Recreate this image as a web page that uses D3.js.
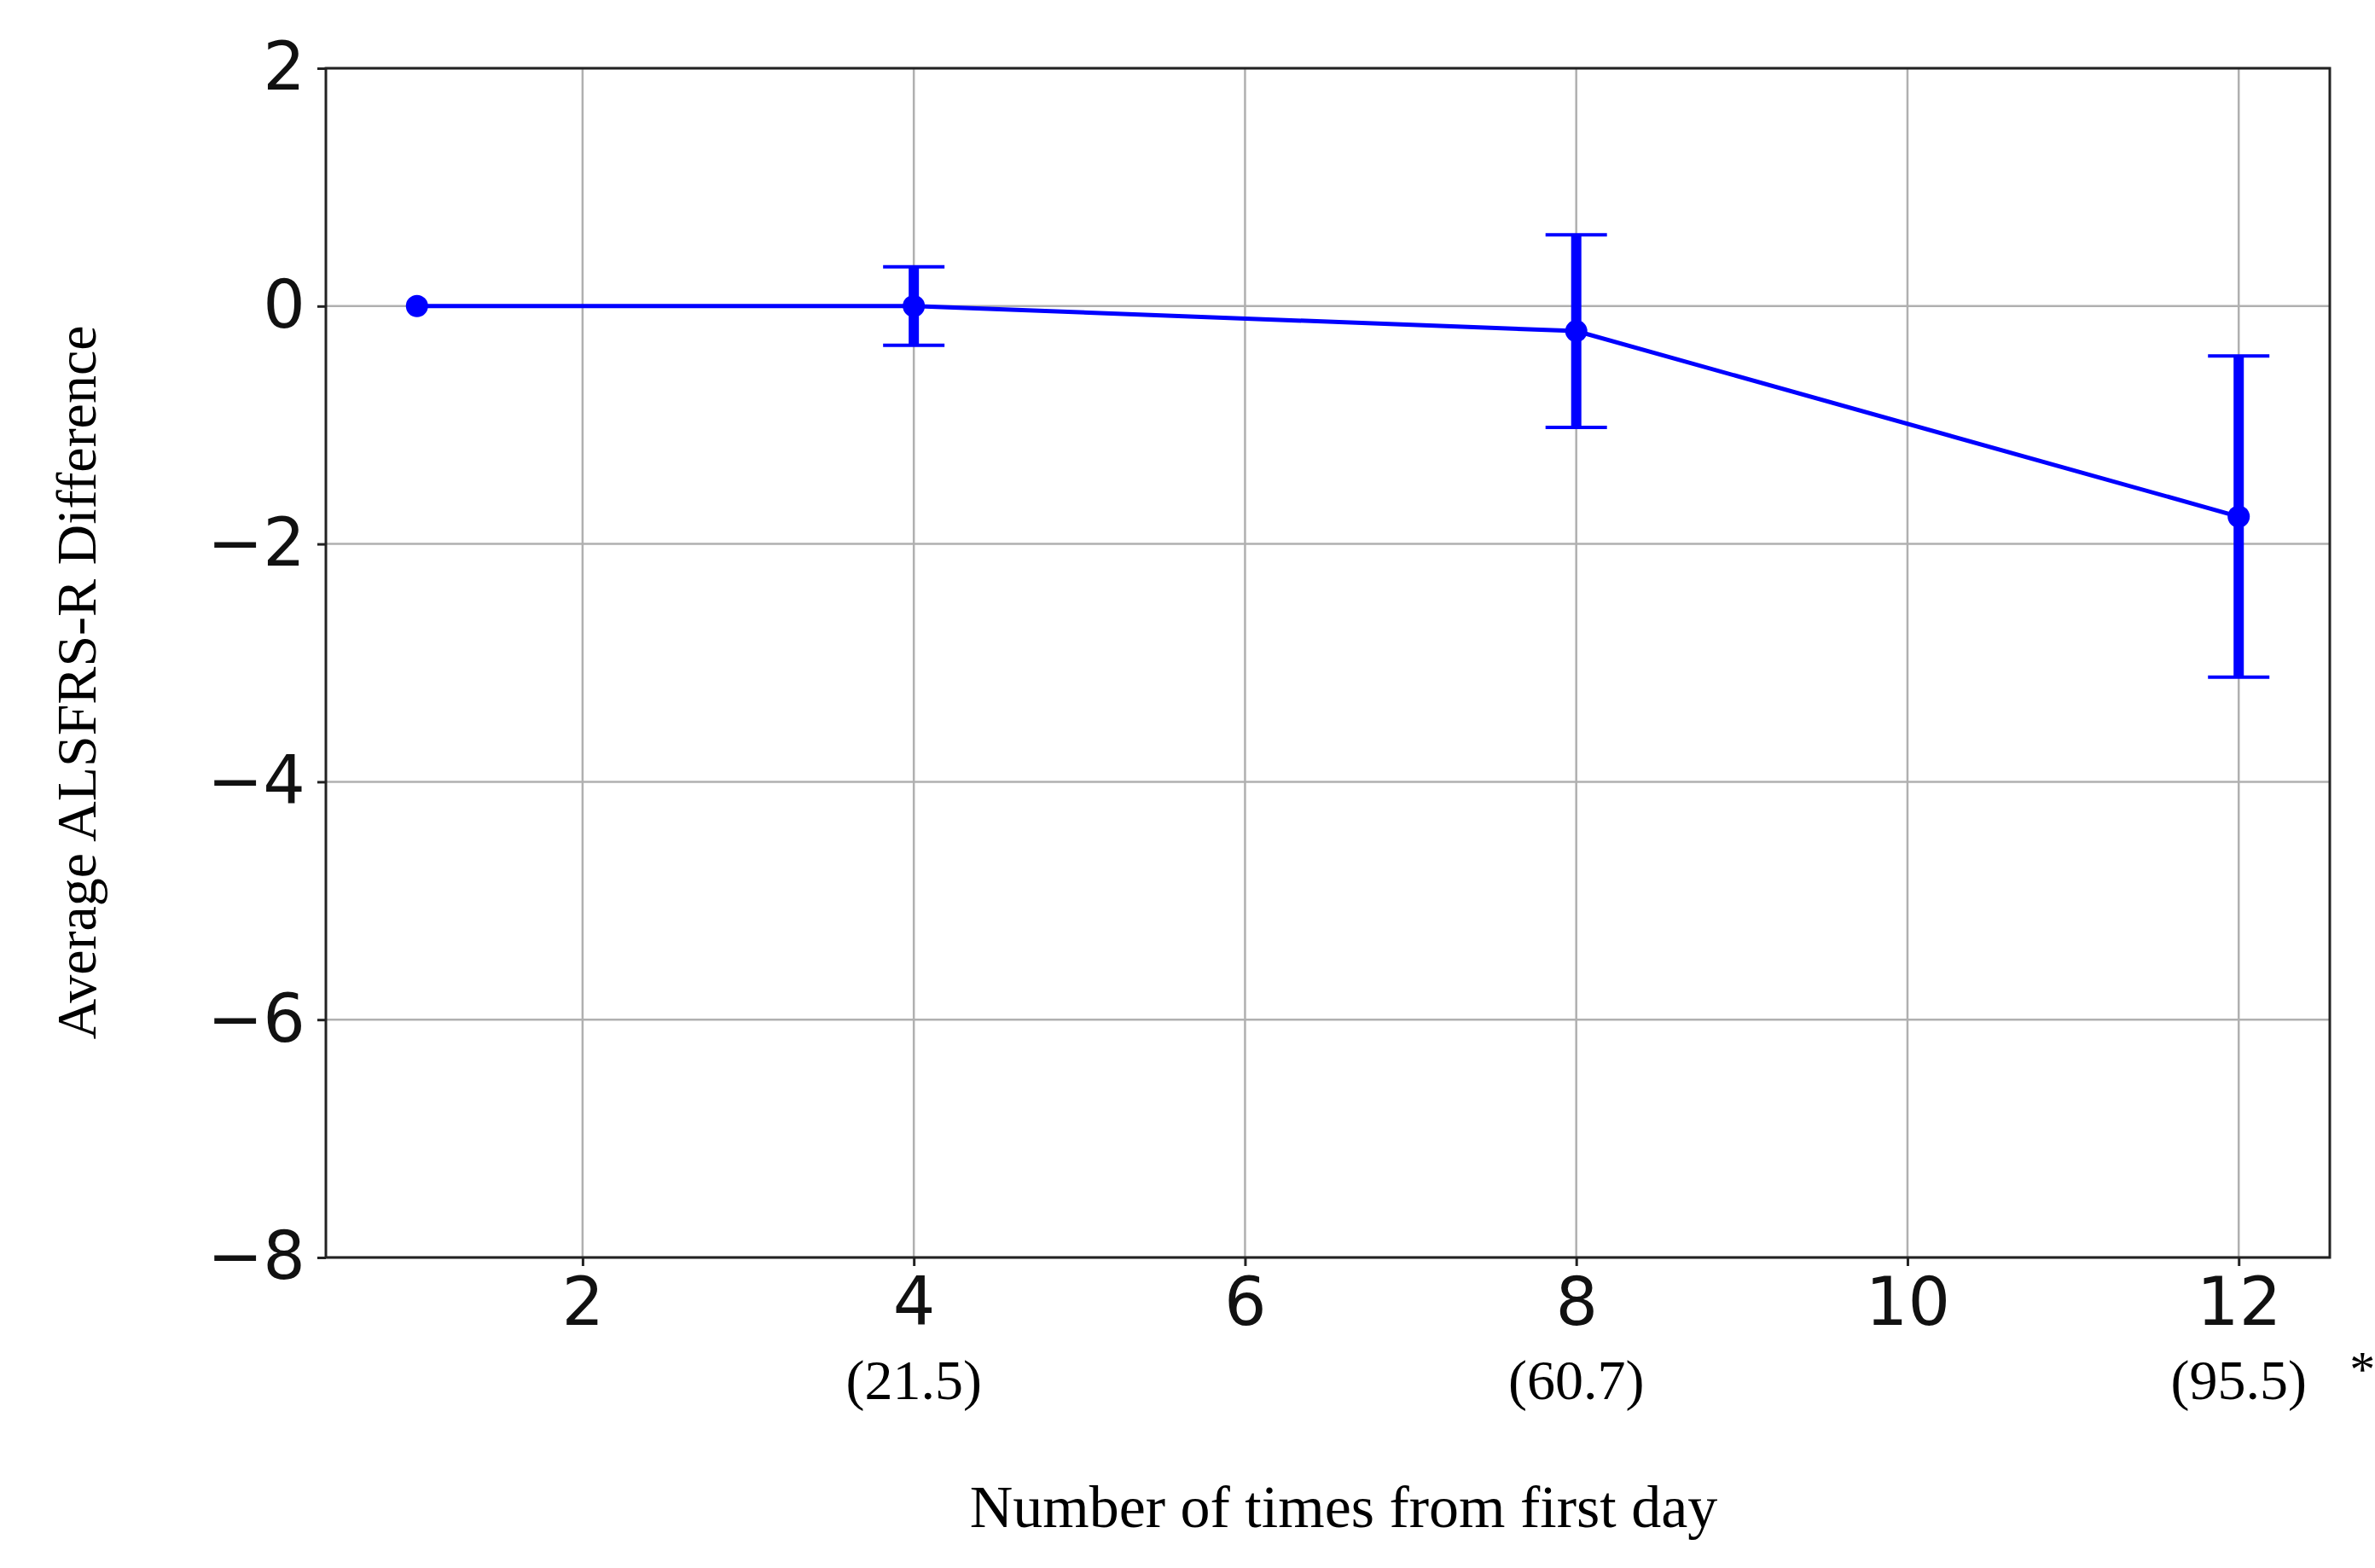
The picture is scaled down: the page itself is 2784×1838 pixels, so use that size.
<!DOCTYPE html>
<html><head><meta charset="utf-8">
<script src="https://cdn.jsdelivr.net/npm/d3@7"></script>
<style>body{margin:0;background:#fff}</style>
</head><body>
<svg id="chart" width="2784" height="1838"></svg>
<script>
// Data
var times = [1, 4, 8, 12];
var means = [0, 0, -0.21, -1.77];
var errs = [0, 0.33, 0.81, 1.35];
var xTicks = [2, 4, 6, 8, 10, 12];
var yTicks = [2, 0, -2, -4, -6, -8];
var subLabels = [{x: 4, t: "(21.5)"}, {x: 8, t: "(60.7)"}, {x: 12, t: "(95.5)"}];

var svg = d3.select("#chart");
var L = 382, R = 2731, T = 80, B = 1474;
var x = d3.scaleLinear().domain([0.45, 12.55]).range([L, R]);
var y = d3.scaleLinear().domain([-8, 2]).range([B, T]);

// Grid
svg.append("g").selectAll("line").data(xTicks).join("line")
  .attr("x1", d => x(d)).attr("x2", d => x(d)).attr("y1", T).attr("y2", B)
  .attr("stroke", "#b0b0b0").attr("stroke-width", 2.5);
svg.append("g").selectAll("line").data(yTicks).join("line")
  .attr("x1", L).attr("x2", R).attr("y1", d => y(d)).attr("y2", d => y(d))
  .attr("stroke", "#b0b0b0").attr("stroke-width", 2.5);

// Axes
var xAxis = svg.append("g").attr("transform", "translate(0," + B + ")")
  .call(d3.axisBottom(x).tickValues(xTicks).tickSize(10).tickPadding(14));
var yAxis = svg.append("g").attr("transform", "translate(" + L + ",0)")
  .call(d3.axisLeft(y).tickValues(yTicks).tickSize(10).tickPadding(14)
    .tickFormat(d => d < 0 ? "\u2212" + Math.abs(d) : d));
[xAxis, yAxis].forEach(g => {
  g.select(".domain").remove();
  g.selectAll("line").attr("stroke", "#222").attr("stroke-width", 3);
  g.selectAll("text").attr("font-family", "DejaVu Sans").attr("font-size", 78).attr("fill", "#111");
});
svg.append("rect").attr("x", L).attr("y", T).attr("width", R - L).attr("height", B - T)
  .attr("fill", "none").attr("stroke", "#222").attr("stroke-width", 3);

// Sub labels
svg.append("g").selectAll("text").data(subLabels).join("text")
  .attr("x", d => x(d.x)).attr("y", 1640).attr("text-anchor", "middle")
  .attr("font-family", "Liberation Serif").attr("font-size", 66).text(d => d.t);
svg.append("text").attr("x", x(12) + 130).attr("y", 1625)
  .attr("font-family", "Liberation Serif").attr("font-size", 60).text("*");

// Titles
svg.append("text").attr("x", 1575).attr("y", 1790).attr("text-anchor", "middle")
  .attr("font-family", "Liberation Serif").attr("font-size", 70).text("Number of times from first day");
svg.append("text").attr("transform", "translate(112,800) rotate(-90)").attr("text-anchor", "middle")
  .attr("font-family", "Liberation Serif").attr("font-size", 66).text("Average ALSFRS-R Difference");

// Line
var pts = times.map((t, i) => ({t: t, m: means[i], e: errs[i]}));
svg.append("path").datum(pts)
  .attr("d", d3.line().x(d => x(d.t)).y(d => y(d.m)))
  .attr("fill", "none").attr("stroke", "#0000ff").attr("stroke-width", 5);

// Error bars
var eb = svg.append("g").selectAll("g").data(pts.filter(d => d.e > 0)).join("g");
eb.append("line").attr("x1", d => x(d.t)).attr("x2", d => x(d.t))
  .attr("y1", d => y(d.m + d.e)).attr("y2", d => y(d.m - d.e))
  .attr("stroke", "#0000ff").attr("stroke-width", 12);
[1, -1].forEach(s => {
  eb.append("line").attr("x1", d => x(d.t) - 36).attr("x2", d => x(d.t) + 36)
    .attr("y1", d => y(d.m + s * d.e)).attr("y2", d => y(d.m + s * d.e))
    .attr("stroke", "#0000ff").attr("stroke-width", 4);
});

// Markers
svg.append("g").selectAll("circle").data(pts).join("circle")
  .attr("cx", d => x(d.t)).attr("cy", d => y(d.m)).attr("r", 13).attr("fill", "#0000ff");
</script>
</body></html>
